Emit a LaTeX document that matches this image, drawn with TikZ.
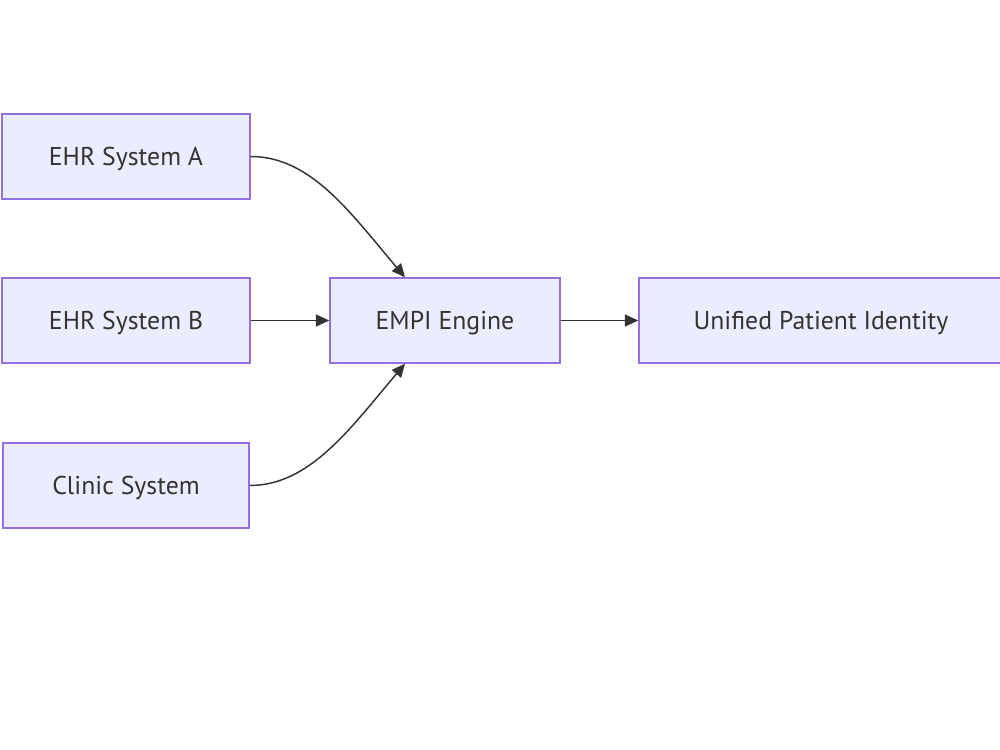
\documentclass[tikz,border=0pt]{standalone}
\usepackage{fontspec}
\setsansfont{PT Sans}
\renewcommand{\familydefault}{\sfdefault}
\usetikzlibrary{arrows.meta}
\definecolor{nodefill}{HTML}{ECECFF}
\definecolor{nodeline}{HTML}{9370DB}
\definecolor{txt}{HTML}{333333}
\begin{document}
\begin{tikzpicture}[x=0.75pt,y=-0.75pt,
  box/.style={draw=nodeline,fill=nodefill,line width=1.1pt,minimum height=63.75pt,
    inner sep=0pt,text=txt,text height=13pt,text depth=0pt,font=\fontsize{19.3}{22}\selectfont},
  conn/.style={draw=txt,line width=1.1pt,-{Triangle[length=10pt,width=9pt]}}]
\useasboundingbox (0,0) rectangle (1000,750);
\node[box,minimum width=186pt] (A) at (126,156.5) {EHR System A};
\node[box,minimum width=186pt] (B) at (126,320.5) {EHR System B};
\node[box,minimum width=184.5pt] (C) at (126,485.5) {Clinic System};
\node[box,minimum width=172.5pt] (E) at (445,320.5) {EMPI Engine};
\node[box,minimum width=273pt] (U) at (821,320.5) {Unified Patient Identity};
\draw[conn] (A.east) .. controls +(60,0) and +(-55,-65) .. ([xshift=-30pt]E.north);
\draw[conn] (B.east) -- (E.west);
\draw[conn] (C.east) .. controls +(60,0) and +(-55,65) .. ([xshift=-30pt]E.south);
\draw[conn] (E.east) -- (U.west);
\end{tikzpicture}
\end{document}
